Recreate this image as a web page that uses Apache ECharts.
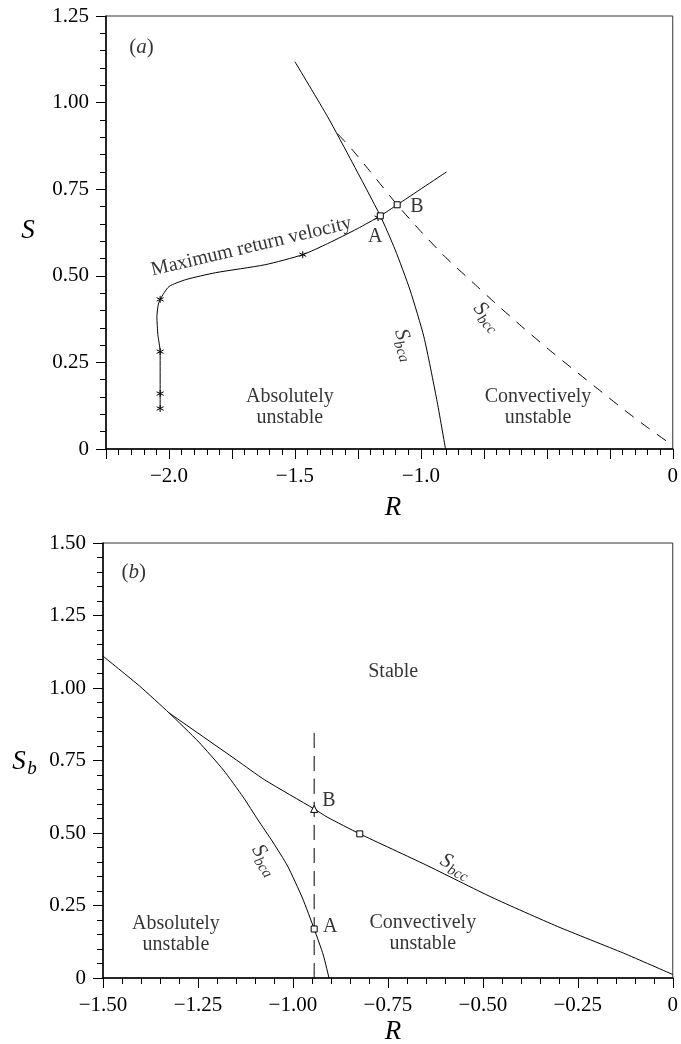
<!DOCTYPE html>
<html>
<head>
<meta charset="utf-8">
<script src="https://cdn.jsdelivr.net/npm/echarts@6/dist/echarts.min.js"></script>
<style>
  html, body { margin: 0; padding: 0; background: #fff; }
  #chart { width: 681px; height: 1044px; }
</style>
</head>
<body>
<div id="chart"></div>
<script>
'use strict';

var FONT = 'Liberation Serif';

// panel (a): S against R
var topSbca = [[-1.500, 1.118], [-1.370, 0.959], [-1.272, 0.827], [-1.161, 0.673], [-1.102, 0.575],
  [-1.043, 0.459], [-0.988, 0.324], [-0.937, 0.143], [-0.902, 0.0]];
var topSbcc = [[-1.330, 0.910], [-1.270, 0.862], [-1.200, 0.800], [-1.094, 0.705], [-1.000, 0.628],
  [-0.900, 0.552], [-0.800, 0.485], [-0.700, 0.418], [-0.600, 0.354], [-0.500, 0.292],
  [-0.400, 0.233], [-0.300, 0.175], [-0.200, 0.117], [-0.100, 0.062], [0.0, 0.010]];
var topMrv = [[-2.035, 0.117], [-2.035, 0.160], [-2.035, 0.281], [-2.044, 0.330], [-2.048, 0.382],
  [-2.043, 0.415], [-2.035, 0.432], [-2.000, 0.469], [-1.933, 0.489], [-1.815, 0.509],
  [-1.618, 0.532], [-1.469, 0.561], [-1.370, 0.593], [-1.252, 0.636], [-1.161, 0.673],
  [-1.094, 0.705], [-0.898, 0.800]];
var topStars = [[-2.035, 0.117], [-2.035, 0.160], [-2.035, 0.281], [-2.035, 0.432], [-1.469, 0.561], [-1.170, 0.668]];
var topSquares = [[-1.161, 0.673], [-1.094, 0.705]];
var topXTicks = [-2, -1.5, -1, 0];
var topXLabels = ['\u22122.0', '\u22121.5', '\u22121.0', '0'];

// panel (b): S_b against R
var botSbca = [[-1.500, 1.110], [-1.404, 1.007], [-1.326, 0.914], [-1.248, 0.814], [-1.183, 0.717],
  [-1.131, 0.624], [-1.092, 0.545], [-1.053, 0.469], [-1.014, 0.386], [-0.975, 0.276],
  [-0.944, 0.169], [-0.920, 0.079], [-0.905, 0.0]];
var botSbcc = [[-1.326, 0.914], [-1.149, 0.752], [-1.074, 0.683], [-0.944, 0.583], [-0.910, 0.555],
  [-0.824, 0.497], [-0.650, 0.390], [-0.476, 0.278], [-0.304, 0.178], [-0.130, 0.086], [0.0, 0.012]];
var botVertical = [[-0.944, 0.0], [-0.944, 0.848]];
var botSquares = [[-0.944, 0.169], [-0.824, 0.497]];
var botTriangles = [[-0.944, 0.583]];

var STAR = 'path://M0,-5L0,5M-4.33,-2.5L4.33,2.5M-4.33,2.5L4.33,-2.5';

function fmtY(v) {
  return v === 0 ? '0' : v.toFixed(2);
}

function axis(gridIndex, min, max, formatter) {
  return {
    type: 'value', gridIndex: gridIndex, min: min, max: max, interval: 0.25,
    axisLine: { show: true, onZero: false, lineStyle: { color: '#000', width: 1.5 } },
    axisTick: { show: true, length: 10, lineStyle: { color: '#000', width: 1 } },
    minorTick: { show: true, splitNumber: 5, length: 6, lineStyle: { color: '#000', width: 1 } },
    splitLine: { show: false },
    axisLabel: {
      show: true, margin: 17, color: '#000', fontFamily: FONT, fontSize: 21,
      showMinLabel: true, showMaxLabel: true, formatter: formatter
    }
  };
}

function curve(xi, data, dashed) {
  return {
    type: 'line', xAxisIndex: xi, yAxisIndex: xi, data: data, showSymbol: false, smooth: 0.2,
    silent: true, lineStyle: { color: '#000', width: 1, type: dashed || 'solid' }, z: 2
  };
}

function marks(xi, data, symbol, size, fill) {
  return {
    type: 'scatter', xAxisIndex: xi, yAxisIndex: xi, data: data, symbol: symbol, symbolSize: size,
    silent: true, itemStyle: { color: fill, borderColor: '#000', borderWidth: 1, opacity: 1 }, z: 4
  };
}

var rich = {
  s: { fontFamily: FONT, fontStyle: 'italic', fontSize: 21, lineHeight: 27, color: '#000' },
  sub: { fontFamily: FONT, fontStyle: 'italic', fontSize: 15, lineHeight: 15, verticalAlign: 'bottom', color: '#000' },
  n: { fontFamily: FONT, fontSize: 21, color: '#000' },
  i: { fontFamily: FONT, fontStyle: 'italic', fontSize: 21, color: '#000' }
};

function notes(xi, items) {
  return {
    type: 'scatter', xAxisIndex: xi, yAxisIndex: xi, symbolSize: 0, silent: true, z: 5,
    label: {
      show: true, position: 'inside', color: '#000', fontFamily: FONT, fontSize: 20,
      lineHeight: 21, align: 'center', verticalAlign: 'middle', rich: rich
    },
    data: items.map(function (it) {
      return { value: [it[0], it[1]], label: { formatter: it[2], rotate: it[3] || 0 } };
    })
  };
}

var chart = echarts.init(document.getElementById('chart'), null, { renderer: 'canvas' });

chart.setOption({
  animation: false,
  backgroundColor: '#fff',
  grid: [
    { left: 106, right: 3, top: 16, height: 433, show: true, borderColor: '#333', borderWidth: 1 },
    { left: 103, right: 1, top: 543, height: 435, show: true, borderColor: '#333', borderWidth: 1 }
  ],
  xAxis: [
    axis(0, -2.25, 0, function (v) {
      for (var k = 0; k < topXTicks.length; k++) {
        if (Math.abs(v - topXTicks[k]) < 1e-6) return topXLabels[k];
      }
      return '';
    }),
    axis(1, -1.5, 0, function (v) {
      return Math.abs(v) < 1e-9 ? '0' : '\u2212' + Math.abs(v).toFixed(2);
    })
  ],
  yAxis: [
    axis(0, 0, 1.25, fmtY),
    axis(1, 0, 1.5, fmtY)
  ],
  graphic: [
    { type: 'text', x: 28, y: 231, style: { text: 'S', font: 'italic 27px "Liberation Serif"', fill: '#000', align: 'center', verticalAlign: 'middle' } },
    { type: 'text', x: 393, y: 508, style: { text: 'R', font: 'italic 27px "Liberation Serif"', fill: '#000', align: 'center', verticalAlign: 'middle' } },
    { type: 'text', x: 19, y: 762, style: { text: 'S', font: 'italic 27px "Liberation Serif"', fill: '#000', align: 'center', verticalAlign: 'middle' } },
    { type: 'text', x: 32, y: 769, style: { text: 'b', font: 'italic 19px "Liberation Serif"', fill: '#000', align: 'center', verticalAlign: 'middle' } },
    { type: 'text', x: 393, y: 1032, style: { text: 'R', font: 'italic 27px "Liberation Serif"', fill: '#000', align: 'center', verticalAlign: 'middle' } }
  ],
  series: [
    curve(0, topSbca),
    curve(0, topSbcc, [11, 9]),
    curve(0, topMrv),
    marks(0, topStars, STAR, 7, 'rgba(0,0,0,0)'),
    marks(0, topSquares, 'rect', 6, '#fff'),
    notes(0, [
      [-2.109, 1.160, '{n|(}{i|a}{n|)}'],
      [-1.673, 0.584, 'Maximum return velocity', 13.4],
      [-1.181, 0.613, 'A'],
      [-1.016, 0.700, 'B'],
      [-1.520, 0.120, 'Absolutely\nunstable'],
      [-0.535, 0.120, 'Convectively\nunstable'],
      [-1.063, 0.301, '{s|S}{sub|bca}', -72],
      [-0.736, 0.382, '{s|S}{sub|bcc}', -48]
    ]),

    curve(1, botSbca),
    curve(1, botSbcc),
    curve(1, botVertical, [15, 8]),
    marks(1, botSquares, 'rect', 6, '#fff'),
    marks(1, botTriangles, 'triangle', 7, '#fff'),
    notes(1, [
      [-1.419, 1.400, '{n|(}{i|b}{n|)}'],
      [-0.736, 1.055, 'Stable'],
      [-0.905, 0.610, 'B'],
      [-0.902, 0.176, 'A'],
      [-1.308, 0.152, 'Absolutely\nunstable'],
      [-0.658, 0.155, 'Convectively\nunstable'],
      [-1.074, 0.407, '{s|S}{sub|bca}', -57],
      [-0.572, 0.386, '{s|S}{sub|bcc}', -27]
    ])
  ]
});
</script>
</body>
</html>
